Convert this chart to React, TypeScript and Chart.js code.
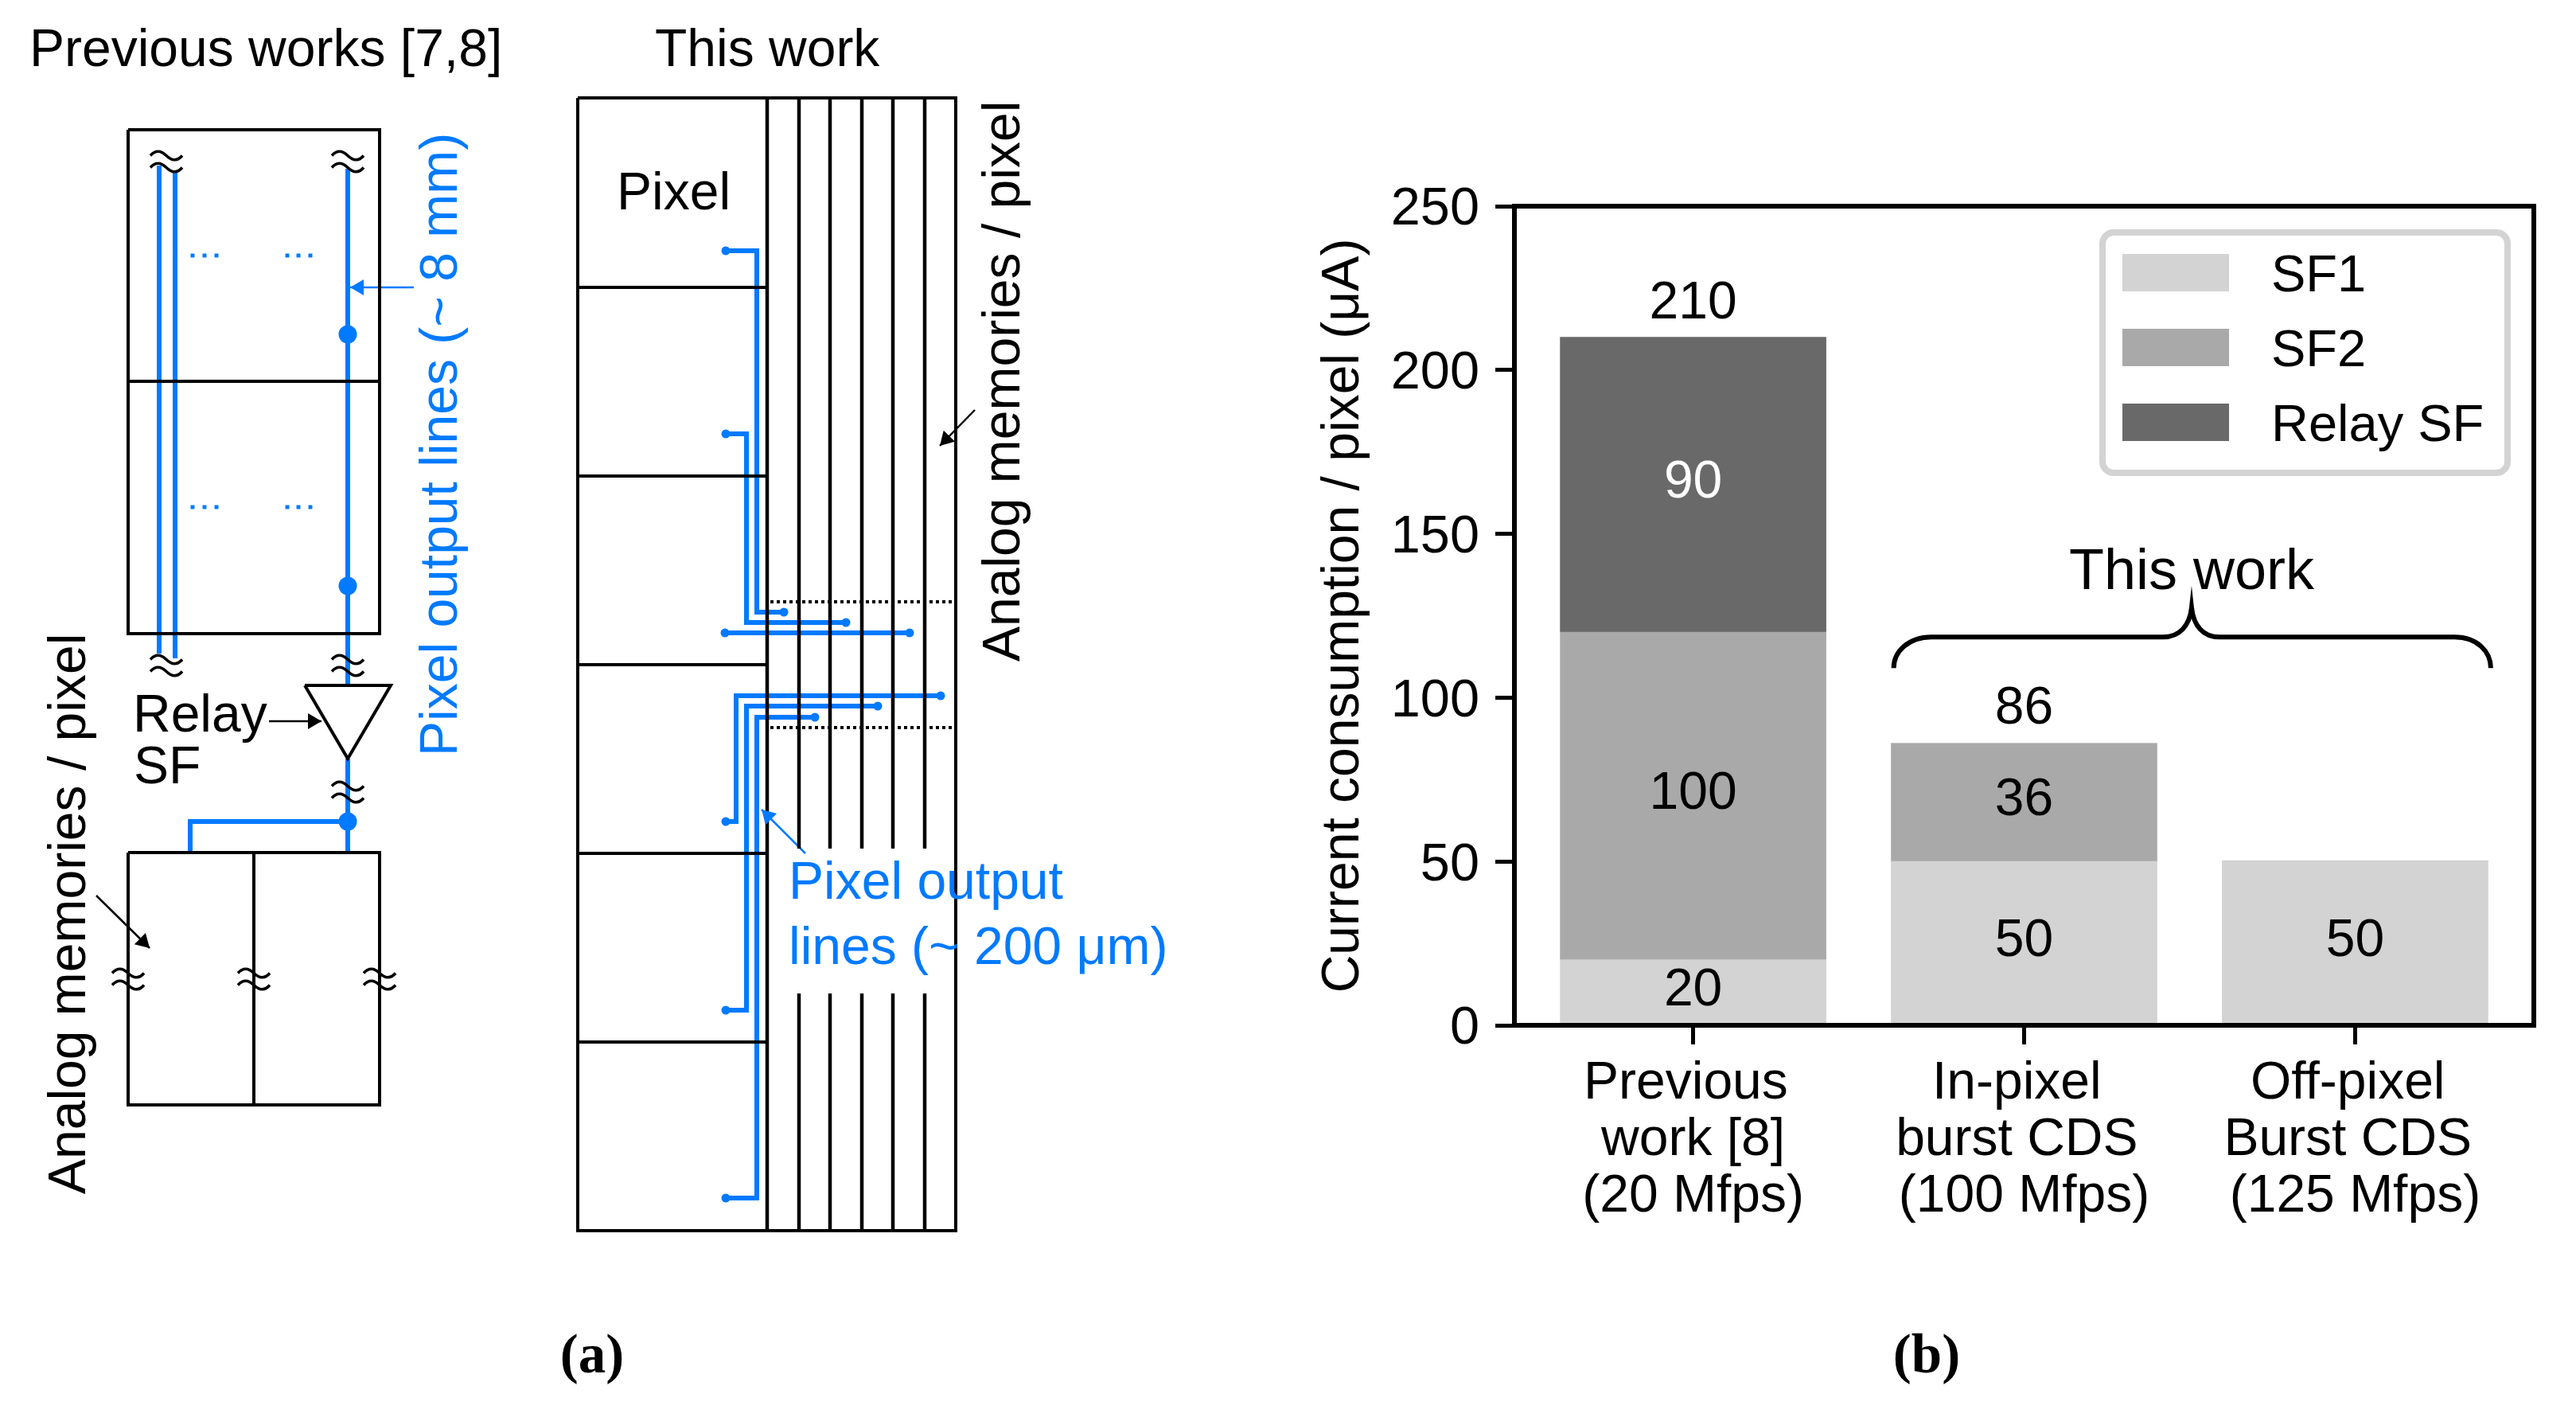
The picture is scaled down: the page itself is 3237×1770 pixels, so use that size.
import React, { useEffect, useRef } from "react";
import { Chart, registerables } from "chart.js";

Chart.register(...registerables);

const W = 3237;
const H = 1770;
const SANS = '"Liberation Sans"';
const SERIF = '"Liberation Serif"';
const BLUE = "#007AFF";
const BLACK = "#000000";

// ---------- (b) bar chart data ----------
const categories = [
  ["Previous ", "work [8]", "(20 Mfps)"],
  ["In-pixel ", "burst CDS ", "(100 Mfps)"],
  ["Off-pixel ", "Burst CDS ", "(125 Mfps)"],
];
const positions = [0, 1, 2];
const sf1Values = [20, 50, 50];
const sf2Values = [100, 36, 0];
const relayValues = [90, 0, 0];
const totals = [210, 86, null];
const totalOffsets = [24, 25, 0];
const yTicksMax = 250;

// ---------- (a) schematic geometry, in schematic units ----------
const leftBoxLines = [
  [[161, 163], [477, 163], [477, 796], [161, 796], [161, 163]],
  [[161, 479], [477, 479]],
];
const lowerBoxLines = [
  [[161, 1071], [477, 1071], [477, 1388], [161, 1388], [161, 1071]],
  [[319, 1071], [319, 1388]],
];
const triangleLine = [[383, 861], [491, 861], [437, 953], [383, 861]];
const rightBoxOutline = [[726, 123], [1201, 123], [1201, 1546], [726, 1546], [726, 123]];
const pixelRowYs = [361, 598, 835, 1072, 1309];
const pixelColumnRight = 964;
const memoryColumnXs = [1004, 1043, 1083, 1122, 1162];
const memoryGap = [1066, 1248];
const dottedYs = [756, 914];
const leftOutputLines = [
  [[200, 208], [200, 821]],
  [[220, 215], [220, 827]],
  [[437, 212], [437, 861]],
  [[437, 953], [437, 1071]],
  [[437, 1032], [239, 1032], [239, 1071]],
];
const rightOutputLines = [
  [[912, 315], [951, 315], [951, 769], [985, 769]],
  [[912, 545], [938, 545], [938, 782], [1063, 782]],
  [[911, 795], [1143, 795]],
  [[912, 1032], [925, 1032], [925, 874], [1182, 874]],
  [[912, 1269], [938, 1269], [938, 887], [1103, 887]],
  [[912, 1505], [951, 1505], [951, 901], [1024, 901]],
];
const bigDots = [[437, 420], [437, 736], [437, 1032]];
const smallDots = [
  [912, 315], [985, 769], [912, 545], [1063, 782], [911, 795], [1143, 795],
  [912, 1032], [1182, 874], [912, 1269], [1103, 887], [912, 1505], [1024, 901],
];
const ellipsisDots = [
  [242, 321], [257, 321], [272, 321], [361, 321], [375, 321], [390, 321],
  [242, 637], [257, 637], [272, 637], [361, 637], [375, 637], [390, 637],
];
const breakMarks = [
  [209, 203], [437, 203], [209, 836], [437, 836], [437, 995],
  [161, 1230], [319, 1230], [477, 1230],
];
const arrowLines = [
  { from: [520, 361], to: [440, 361], color: BLUE },
  { from: [1012, 1072], to: [957, 1017], color: BLUE },
  { from: [338, 906], to: [404, 906], color: BLACK },
  { from: [121, 1125], to: [188, 1191], color: BLACK },
  { from: [1225, 515], to: [1181, 560], color: BLACK },
];
const schematicTexts = [
  { text: "Previous works [7,8]", x: 37, y: 83, color: BLACK, rotate: false },
  { text: "This work", x: 823, y: 83, color: BLACK, rotate: false },
  { text: "Pixel", x: 775, y: 263, color: BLACK, rotate: false },
  { text: "Relay", x: 167, y: 919, color: BLACK, rotate: false },
  { text: "SF", x: 168, y: 984, color: BLACK, rotate: false },
  { text: "Pixel output", x: 991, y: 1129, color: BLUE, rotate: false },
  { text: "lines (~ 200 μm)", x: 991, y: 1211, color: BLUE, rotate: false },
  { text: "Pixel output lines (~ 8 mm)", x: 574, y: 950, color: BLUE, rotate: true },
  { text: "Analog memories / pixel", x: 107, y: 1500, color: BLACK, rotate: true },
  { text: "Analog memories / pixel", x: 1281, y: 831, color: BLACK, rotate: true },
];

const toXY = (pts: number[][]) => pts.map(([x, y]) => ({ x, y }));

function lineSet(pts: number[][], color: string, width: number, dash: number[] = []) {
  return {
    type: "scatter",
    data: toXY(pts),
    showLine: true,
    borderColor: color,
    borderWidth: width,
    borderDash: dash,
    borderCapStyle: "butt",
    borderJoinStyle: "miter",
    pointRadius: 0,
    tension: 0,
    fill: false,
  };
}

function dotSet(pts: number[][], radius: number, style = "circle") {
  return {
    type: "scatter",
    data: toXY(pts),
    showLine: false,
    pointStyle: style,
    pointRadius: radius,
    pointBackgroundColor: BLUE,
    pointBorderWidth: 0,
  };
}

const schematicPlugin = {
  id: "schematicMarks",
  afterDatasetsDraw(chart: any) {
    const { ctx, scales } = chart;
    const px = (v: number) => scales.x.getPixelForValue(v);
    const py = (v: number) => scales.y.getPixelForValue(v);
    ctx.save();
    // break marks
    ctx.strokeStyle = BLACK;
    ctx.lineWidth = 3.5;
    breakMarks.forEach(([x, y]) => {
      [-7.5, 7.5].forEach((d) => {
        const cx = px(x);
        const cy = py(y) + d;
        ctx.beginPath();
        ctx.moveTo(cx - 20, cy);
        ctx.bezierCurveTo(cx - 14, cy - 7, cx - 7, cy - 7, cx, cy);
        ctx.bezierCurveTo(cx + 7, cy + 7, cx + 14, cy + 7, cx + 20, cy);
        ctx.stroke();
      });
    });
    // arrow heads
    arrowLines.forEach(({ from, to, color }) => {
      const tx = px(to[0]);
      const ty = py(to[1]);
      const a = Math.atan2(ty - py(from[1]), tx - px(from[0]));
      ctx.fillStyle = color;
      ctx.beginPath();
      ctx.moveTo(tx, ty);
      ctx.lineTo(tx - 17 * Math.cos(a) + 10 * Math.sin(a), ty - 17 * Math.sin(a) - 10 * Math.cos(a));
      ctx.lineTo(tx - 17 * Math.cos(a) - 10 * Math.sin(a), ty - 17 * Math.sin(a) + 10 * Math.cos(a));
      ctx.closePath();
      ctx.fill();
    });
    // texts
    ctx.font = `66px ${SANS}`;
    ctx.textAlign = "left";
    ctx.textBaseline = "alphabetic";
    schematicTexts.forEach(({ text, x, y, color, rotate }) => {
      ctx.fillStyle = color;
      ctx.save();
      ctx.translate(px(x), py(y));
      if (rotate) ctx.rotate(-Math.PI / 2);
      ctx.fillText(text, 0, 0);
      ctx.restore();
    });
    ctx.fillStyle = BLACK;
    ctx.font = `bold 69px ${SERIF}`;
    ctx.textAlign = "center";
    ctx.textBaseline = "middle";
    ctx.fillText("(a)", px(744), py(1706));
    ctx.fillText("(b)", px(2421), py(1706));
    ctx.restore();
  },
};

const legendBox = { left: 2642, top: 292, right: 3151, bottom: 594 };
const legendRows = [319, 413, 507];

const barAnnotations = {
  id: "barAnnotations",
  afterDatasetsDraw(chart: any) {
    const { ctx, chartArea, scales } = chart;
    const px = (v: number) => scales.x.getPixelForValue(v);
    const py = (v: number) => scales.y.getPixelForValue(v);
    ctx.save();
    // axes frame
    ctx.strokeStyle = BLACK;
    ctx.lineWidth = 6;
    ctx.strokeRect(chartArea.left, chartArea.top, chartArea.width, chartArea.height);
    // in-bar values
    ctx.font = `66px ${SANS}`;
    ctx.textAlign = "center";
    ctx.textBaseline = "middle";
    chart.data.datasets.forEach((ds: any, i: number) => {
      const meta = chart.getDatasetMeta(i);
      ds.data.forEach((d: any, j: number) => {
        if (!d.y) return;
        const bar = meta.data[j];
        ctx.fillStyle = ds.labelColor;
        ctx.fillText(String(d.y), bar.x, (bar.y + bar.base) / 2 - 2);
      });
    });
    // totals
    ctx.fillStyle = BLACK;
    ctx.textBaseline = "alphabetic";
    totals.forEach((t, j) => {
      if (t == null) return;
      ctx.fillText(String(t), px(positions[j]), py(t) - totalOffsets[j]);
    });
    // brace
    ctx.lineWidth = 6;
    ctx.beginPath();
    ctx.moveTo(px(0.606), py(109));
    ctx.bezierCurveTo(px(0.606), py(114), px(0.65), py(118.5), px(0.72), py(118.5));
    ctx.lineTo(px(1.42), py(118.5));
    ctx.bezierCurveTo(px(1.47), py(118.5), px(1.5), py(122), px(1.506), py(127.5));
    ctx.bezierCurveTo(px(1.512), py(122), px(1.54), py(118.5), px(1.59), py(118.5));
    ctx.lineTo(px(2.3), py(118.5));
    ctx.bezierCurveTo(px(2.37), py(118.5), px(2.41), py(114), px(2.41), py(109));
    ctx.stroke();
    ctx.font = `72px ${SANS}`;
    ctx.fillText("This work", px(1.506), py(133.2));
    // legend
    ctx.strokeStyle = "#D3D3D3";
    ctx.lineWidth = 8;
    ctx.beginPath();
    ctx.roundRect(legendBox.left, legendBox.top, legendBox.right - legendBox.left, legendBox.bottom - legendBox.top, 14);
    ctx.stroke();
    ctx.font = `65px ${SANS}`;
    ctx.textAlign = "left";
    chart.data.datasets.forEach((ds: any, i: number) => {
      ctx.fillStyle = ds.backgroundColor;
      ctx.fillRect(legendBox.left + 25, legendRows[i], 134, 47);
      ctx.fillStyle = BLACK;
      ctx.fillText(ds.label, legendBox.left + 212, legendRows[i] + 47);
    });
    ctx.restore();
  },
};

export default function App() {
  const aRef = useRef<HTMLCanvasElement | null>(null);
  const bRef = useRef<HTMLCanvasElement | null>(null);

  useEffect(() => {
    const schematicData: any[] = [
      ...leftBoxLines.map((p) => lineSet(p, BLACK, 4)),
      ...lowerBoxLines.map((p) => lineSet(p, BLACK, 4)),
      lineSet(triangleLine, BLACK, 4),
      lineSet(rightBoxOutline, BLACK, 4),
      ...pixelRowYs.map((y) => lineSet([[726, y], [pixelColumnRight, y]], BLACK, 4)),
      lineSet([[pixelColumnRight, 123], [pixelColumnRight, 1546]], BLACK, 4.5),
      ...memoryColumnXs.flatMap((x) => [
        lineSet([[x, 123], [x, memoryGap[0]]], BLACK, 4.5),
        lineSet([[x, memoryGap[1]], [x, 1546]], BLACK, 4.5),
      ]),
      ...dottedYs.map((y) => lineSet([[968, y], [1201, y]], BLACK, 4, [4, 4])),
      ...leftOutputLines.map((p) => lineSet(p, BLUE, 6)),
      ...rightOutputLines.map((p) => lineSet(p, BLUE, 6)),
      ...arrowLines.map((a) => lineSet([a.from, a.to], a.color, 2.5)),
      dotSet(bigDots, 11.5),
      dotSet(smallDots, 5.5),
      dotSet(ellipsisDots, 3.5, "rect"),
    ];
    const chartA = new Chart(aRef.current as any, {
      type: "scatter",
      data: { datasets: schematicData },
      plugins: [schematicPlugin],
      options: {
        responsive: false,
        devicePixelRatio: 1,
        animation: false,
        layout: { padding: 0, autoPadding: false },
        plugins: { legend: { display: false }, tooltip: { enabled: false } },
        scales: {
          x: { type: "linear", min: 0, max: W, display: false },
          y: { type: "linear", min: 0, max: H, reverse: true, display: false },
        },
      },
    } as any);

    const seriesData = (vals: number[]) => vals.map((y, i) => ({ x: positions[i], y }));
    const chartB = new Chart(bRef.current as any, {
      type: "bar",
      data: {
        datasets: [
          { label: "SF1", data: seriesData(sf1Values), backgroundColor: "#D3D3D3", barThickness: 334, labelColor: BLACK },
          { label: "SF2", data: seriesData(sf2Values), backgroundColor: "#A9A9A9", barThickness: 334, labelColor: BLACK },
          { label: "Relay SF", data: seriesData(relayValues), backgroundColor: "#696969", barThickness: 334, labelColor: "#FFFFFF" },
        ] as any,
      },
      plugins: [barAnnotations],
      options: {
        responsive: false,
        devicePixelRatio: 1,
        animation: false,
        layout: { padding: { left: 1600, right: 53, top: 259, bottom: 82 }, autoPadding: false },
        plugins: { legend: { display: false }, tooltip: { enabled: false } },
        scales: {
          x: {
            type: "linear",
            stacked: true,
            offset: false,
            min: -0.54,
            max: 2.54,
            afterFit: (s: any) => { s.height = 400; },
            border: { display: false },
            grid: { offset: false, drawOnChartArea: false, drawTicks: true, tickLength: 24, tickWidth: 5, tickColor: BLACK, color: "rgba(0,0,0,0)" },
            ticks: {
              stepSize: 1,
              includeBounds: false,
              autoSkip: false,
              maxRotation: 0,
              minRotation: 0,
              padding: 14,
              color: BLACK,
              font: { family: SANS, size: 66, lineHeight: 1.075 },
              callback: (v: any) => categories[v],
            },
          },
          y: {
            stacked: true,
            min: 0,
            max: yTicksMax,
            afterFit: (s: any) => { s.width = 303; },
            border: { display: false },
            grid: { drawOnChartArea: false, drawTicks: true, tickLength: 24, tickWidth: 5, tickColor: BLACK, color: "rgba(0,0,0,0)" },
            title: {
              display: true,
              text: "Current consumption / pixel (μA)",
              color: BLACK,
              font: { family: SANS, size: 66 },
              padding: { top: 49, bottom: 0 },
            },
            ticks: {
              stepSize: 50,
              padding: 20,
              labelOffset: 5,
              color: BLACK,
              font: { family: SANS, size: 66.67 },
            },
          },
        },
      },
    } as any);

    return () => {
      chartA.destroy();
      chartB.destroy();
    };
  }, []);

  const canvasStyle: React.CSSProperties = { position: "absolute", left: 0, top: 0, width: W, height: H };
  return (
    <div style={{ position: "absolute", left: 0, top: 0, width: W, height: H, background: "#FFFFFF", overflow: "hidden" }}>
      <canvas ref={aRef} width={W} height={H} style={canvasStyle} />
      <canvas ref={bRef} width={W} height={H} style={canvasStyle} />
    </div>
  );
}
